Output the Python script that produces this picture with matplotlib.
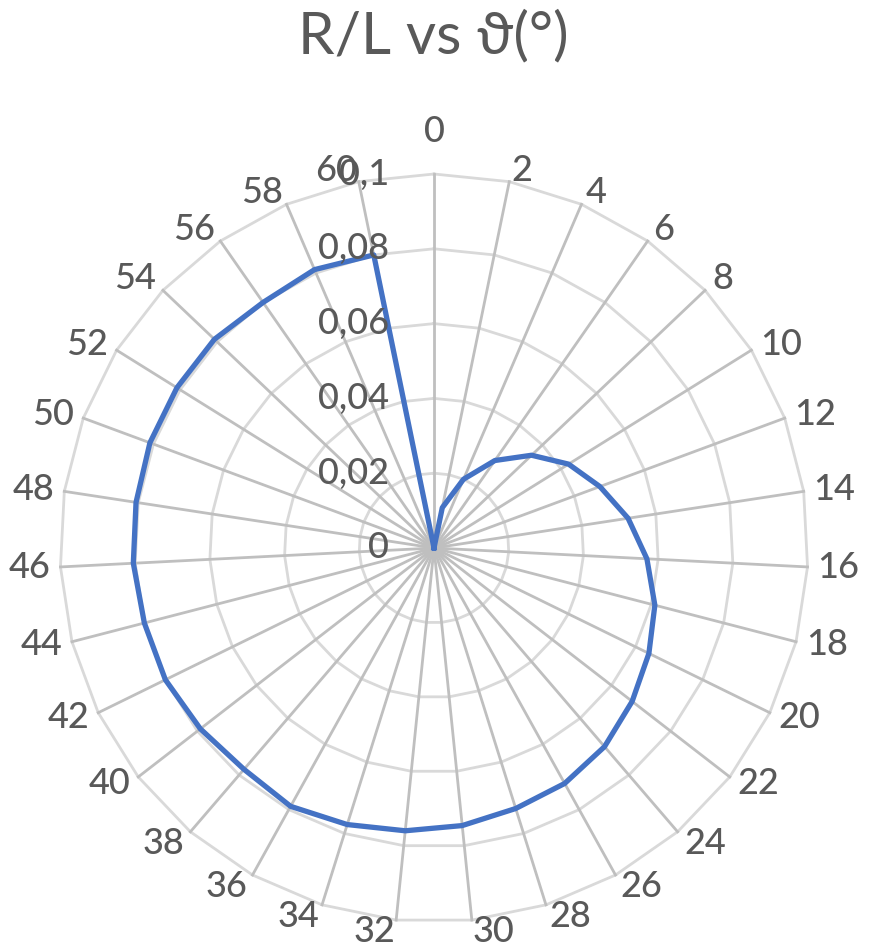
import numpy as np
import matplotlib.pyplot as plt
from matplotlib.transforms import offset_copy

# categories (theta in degrees) and R/L values
theta_deg = list(range(0, 61, 2))
rl_values = [0.0, 0.011, 0.020, 0.0285, 0.036, 0.0424, 0.0473, 0.0525, 0.057,
             0.061, 0.064, 0.067, 0.070, 0.072, 0.073, 0.0746, 0.076, 0.0775,
             0.079, 0.078, 0.079, 0.080, 0.080, 0.0805, 0.0806, 0.081, 0.081,
             0.081, 0.080, 0.081, 0.080]
r_ticks = [0, 0.02, 0.04, 0.06, 0.08, 0.1]
r_tick_labels = ['0', '0,02', '0,04', '0,06', '0,08', '0,1']

text_col = '#595959'
fnt = ['Lato', 'DejaVu Sans']

fig = plt.figure(figsize=(8.73, 9.5), dpi=100)
ax = fig.add_axes([60 / 873, 28 / 950, 748 / 873, 748 / 950], projection='polar')
ax.set_theta_zero_location('N')
ax.set_theta_direction(-1)
ax.set_ylim(0, 0.1)
ax.axis('off')

n = len(theta_deg)
ang = np.arange(n) * 2 * np.pi / n
ang_closed = np.append(ang, ang[0])

# polygon rings
for r in r_ticks[1:]:
    ax.plot(ang_closed, [r] * (n + 1), color='#d9d9d9', lw=2.0, zorder=1,
            clip_on=False)
# spokes
for a in ang:
    ax.plot([a, a], [0, 0.1], color='#bfbfbf', lw=2.0, zorder=2, clip_on=False)

# data line
vals = list(rl_values) + [rl_values[0]]
ax.plot(ang_closed, vals, color='#4472c4', lw=3.8, zorder=5, clip_on=False,
        solid_joinstyle='round')

# category labels
for a, lab in zip(ang, theta_deg):
    s, c = np.sin(a), np.cos(a)
    ha = 'center' if abs(s) < 0.02 else ('left' if s > 0 else 'right')
    va = 'center' if abs(c) < 0.65 else ('bottom' if c > 0 else 'top')
    dx = 10 * s
    if lab == 0:
        dy = 26
    elif va == 'top':
        dy = 5
    elif va == 'bottom':
        dy = -5
    else:
        dy = 10 * c
    tr = offset_copy(ax.transData, fig=fig, x=dx, y=dy, units='dots')
    ax.text(a, 0.1, str(lab), transform=tr, ha=ha, va=va, fontsize=26,
            color=text_col, family=fnt, weight='medium', zorder=6)

# radial labels
tr_r = offset_copy(ax.transData, fig=fig, x=-45, y=0, units='dots')
for r, lab in zip(r_ticks, r_tick_labels):
    ax.text(0, r, lab, transform=tr_r, ha='right', va='center', fontsize=26,
            color=text_col, family=fnt, weight='medium', zorder=6)

fig.text(433 / 873, 1 - 53 / 950, 'R/L vs ϑ(°)', ha='center', va='baseline',
         fontsize=42, color=text_col, family=fnt)

fig.savefig('out.png', dpi=100)
